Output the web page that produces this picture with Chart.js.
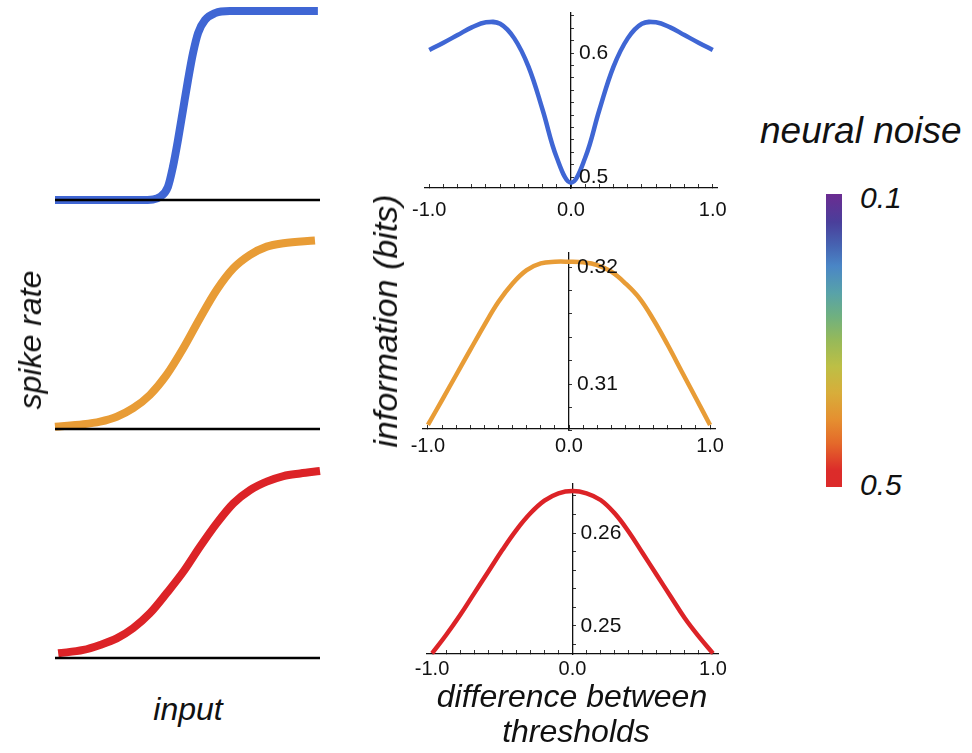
<!DOCTYPE html>
<html>
<head>
<meta charset="utf-8">
<script src="https://cdn.jsdelivr.net/npm/chart.js@4.4.1/dist/chart.umd.min.js"></script>
<style>
  html, body { margin: 0; padding: 0; background: #fff; }
  #fig { position: relative; width: 972px; height: 753px; background: #fff; overflow: hidden;
         font-family: "Liberation Sans", Arial, Helvetica, sans-serif; color: #111; }
  .panel { position: absolute; }
  .lbl { position: absolute; font-style: italic; line-height: 1; white-space: nowrap; }
  .rot { transform: translate(-50%, -50%) rotate(-90deg); }
  #bar { position: absolute; left: 826px; top: 194px; width: 16px; height: 293px; }
</style>
</head>
<body>
<div id="fig">
  <div class="panel" style="left:40px;top:0;width:295px;height:215px"><canvas id="l1"></canvas></div>
  <div class="panel" style="left:40px;top:225px;width:295px;height:215px"><canvas id="l2"></canvas></div>
  <div class="panel" style="left:40px;top:460px;width:295px;height:210px"><canvas id="l3"></canvas></div>

  <div class="panel" style="left:395px;top:0;width:352px;height:225px"><canvas id="r1"></canvas></div>
  <div class="panel" style="left:393px;top:230px;width:352px;height:236px"><canvas id="r2"></canvas></div>
  <div class="panel" style="left:397px;top:460px;width:351px;height:231px"><canvas id="r3"></canvas></div>

  <div class="lbl rot" style="left:30px;top:340px;font-size:32px">spike rate</div>
  <div class="lbl" style="left:188px;top:693px;font-size:32px;transform:translateX(-50%)">input</div>
  <div class="lbl rot" style="left:385px;top:321px;font-size:34px">information (bits)</div>
  <div class="lbl" style="left:572px;top:680px;font-size:32px;transform:translateX(-50%)">difference between</div>
  <div class="lbl" style="left:576px;top:715px;font-size:32px;transform:translateX(-50%)">thresholds</div>

  <div class="lbl" style="left:760px;top:112px;font-size:37px">neural noise</div>
  <div id="bar"></div>
  <div class="lbl" id="barTop" style="left:860px;top:183px;font-size:30px"></div>
  <div class="lbl" id="barBottom" style="left:860px;top:470px;font-size:30px"></div>
</div>

<script>
// ---------------- dati ----------------
// pannelli di sinistra: tasso di spike (normalizzato) in funzione dell'input
const baseX = [0, 10];
const baseY = [0, 0];

const inputBlue = [0, 3.2, 3.7, 3.96, 4.26, 4.45, 4.64, 4.83, 5.02, 5.21, 5.4, 5.66, 6.04, 6.6, 7.7, 9.92];
const rateBlue  = [0, 0, 0.003, 0.016, 0.069, 0.175, 0.317, 0.476, 0.635, 0.778, 0.884, 0.952, 0.989, 1, 1, 1];

const inputOrange = [0, 1.07, 1.7, 2.33, 2.95, 3.58, 4.21, 4.84, 5.47, 6.1, 6.73, 7.36, 7.99, 8.62, 9.81];
const rateOrange  = [0.012, 0.025, 0.039, 0.065, 0.11, 0.18, 0.286, 0.427, 0.586, 0.735, 0.85, 0.921, 0.965, 0.983, 0.997];

const inputRed = [0.12, 1.07, 1.7, 2.33, 2.95, 3.58, 4.21, 4.84, 5.47, 6.1, 6.73, 7.36, 7.99, 8.62, 9.25, 10];
const rateRed  = [0.025, 0.043, 0.07, 0.105, 0.16, 0.239, 0.346, 0.461, 0.595, 0.72, 0.827, 0.898, 0.943, 0.973, 0.987, 1];

// pannelli di destra: informazione (bit) in funzione della differenza tra soglie
const diffX = [-1, -0.9, -0.8, -0.7, -0.6, -0.5, -0.4, -0.3, -0.2, -0.1, 0,
               0.1, 0.2, 0.3, 0.4, 0.5, 0.6, 0.7, 0.8, 0.9, 1];
const infoBlue = [0.6024, 0.6083, 0.6145, 0.6207, 0.6248, 0.6236, 0.6118, 0.589, 0.554, 0.5155, 0.4954,
                  0.5155, 0.554, 0.589, 0.6118, 0.6236, 0.6248, 0.6207, 0.6145, 0.6083, 0.6024];
const infoOrange = [0.3065, 0.30863, 0.31077, 0.31291, 0.31504, 0.31703, 0.3186, 0.31974, 0.32031, 0.32045, 0.32045,
                    0.3204, 0.32017, 0.3196, 0.3186, 0.31732, 0.31547, 0.31333, 0.31105, 0.30878, 0.3065];
const infoRed = [0.24706, 0.24903, 0.25118, 0.25351, 0.25584, 0.25817, 0.26032, 0.26212, 0.26348, 0.26427, 0.26452,
                 0.26427, 0.26355, 0.26212, 0.26014, 0.25782, 0.25548, 0.25315, 0.25083, 0.24885, 0.24706];

// tacche
const xTicks = [-1, -0.9, -0.8, -0.7, -0.6, -0.5, -0.4, -0.3, -0.2, -0.1, 0,
                0.1, 0.2, 0.3, 0.4, 0.5, 0.6, 0.7, 0.8, 0.9, 1];
const xTickLabels = [-1, 0, 1];
const yTicksBlue = [0.5, 0.51, 0.52, 0.53, 0.54, 0.55, 0.56, 0.57, 0.58, 0.59, 0.6, 0.61, 0.62, 0.63];
const yLabelsBlue = [0.5, 0.6];
const yTicksOrange = [0.306, 0.308, 0.31, 0.312, 0.314, 0.316, 0.318, 0.32];
const yLabelsOrange = [0.31, 0.32];
const yTicksRed = [0.248, 0.25, 0.252, 0.254, 0.256, 0.258, 0.26, 0.262, 0.264];
const yLabelsRed = [0.25, 0.26];

// barra dei colori (rumore neurale)
const noiseLabels = ["0.1", "0.5"];
const barStops = [
  ["#6b2c91", 0], ["#4a3f9b", 0.097], ["#4664b2", 0.177], ["#4a86c6", 0.246], ["#58a2a9", 0.337],
  ["#6fb080", 0.417], ["#95b95a", 0.497], ["#bdbf45", 0.589], ["#d8ad3a", 0.68], ["#e58f30", 0.771],
  ["#e4692a", 0.851], ["#dc2c2a", 0.943], ["#dc2a2a", 1]
];

const BLUE = "#3f66d4";
const ORANGE = "#e89c36";
const RED = "#dc2327";
const FONT = '"Liberation Sans", Arial, Helvetica, sans-serif';

// ---------------- utilita ----------------
const zip = (xs, ys) => xs.map((x, i) => ({ x: x, y: ys[i] }));

Chart.defaults.animation = false;
Chart.defaults.devicePixelRatio = 1;

// etichette dell'asse y a destra dell'asse centrale
const yLabelPlugin = {
  id: "yLabels",
  afterDraw(chart, args, opts) {
    if (!opts || !opts.labels) return;
    const ctx = chart.ctx;
    const px = chart.scales.x.getPixelForValue(0);
    ctx.save();
    ctx.font = "21px " + FONT;
    ctx.fillStyle = "#111";
    ctx.textAlign = "left";
    ctx.textBaseline = "middle";
    opts.labels.forEach(v => ctx.fillText(v.toFixed(opts.digits), px + 8, chart.scales.y.getPixelForValue(v)));
    ctx.restore();
  }
};
Chart.register(yLabelPlugin);

const graficoSigmoide = function (id, xs, ys, colore, padding, monotona) {
  new Chart(document.getElementById(id), {
    type: "line",
    data: {
      datasets: [
        { data: zip(baseX, baseY), borderColor: "#000", borderWidth: 2.5, pointRadius: 0, clip: false },
        { data: zip(xs, ys), borderColor: colore, borderWidth: 8, pointRadius: 0, clip: false,
          cubicInterpolationMode: monotona ? "monotone" : "default", tension: monotona ? 0 : 0.4,
          capBezierPoints: false }
      ]
    },
    options: {
      responsive: true,
      maintainAspectRatio: false,
      layout: { padding: padding },
      plugins: { legend: { display: false }, tooltip: { enabled: false } },
      scales: {
        x: { type: "linear", min: 0, max: 10, display: false },
        y: { type: "linear", min: 0, max: 1, display: false }
      }
    }
  });
};

const graficoInfo = function (id, ys, colore, cfg) {
  new Chart(document.getElementById(id), {
    type: "line",
    data: {
      datasets: [{ data: zip(diffX, ys), borderColor: colore, borderWidth: 4.5, pointRadius: 0,
                   tension: 0.4, capBezierPoints: false, clip: false }]
    },
    options: {
      responsive: true,
      maintainAspectRatio: false,
      layout: { padding: cfg.padding },
      plugins: {
        legend: { display: false },
        tooltip: { enabled: false },
        yLabels: { labels: cfg.yLabels, digits: cfg.digits }
      },
      scales: {
        x: {
          type: "linear", position: "bottom", min: cfg.xMin, max: cfg.xMax,
          afterBuildTicks: s => { s.ticks = xTicks.map(v => ({ value: v })); },
          afterFit: s => { s.height = 30; },
          border: { color: "#111", width: 1.3 },
          grid: { drawOnChartArea: false, tickLength: -4, tickColor: "#333", tickWidth: 1 },
          ticks: {
            autoSkip: false, maxRotation: 0, minRotation: 0, padding: cfg.xPad,
            color: "#111", font: { family: FONT, size: 20 },
            callback: v => xTickLabels.includes(v) ? v.toFixed(1) : ""
          }
        },
        y: {
          type: "linear", position: { x: 0 }, min: cfg.yMin, max: cfg.yMax,
          afterBuildTicks: s => { s.ticks = cfg.yTicks.map(v => ({ value: v })); },
          border: { color: "#111", width: 1.3 },
          grid: { drawOnChartArea: false, tickLength: -4, tickColor: "#333", tickWidth: 1 },
          ticks: { display: false, autoSkip: false }
        }
      }
    }
  });
};

// ---------------- pannelli ----------------
graficoSigmoide("l1", inputBlue, rateBlue, BLUE, { left: 15, right: 15, top: 11, bottom: 15 }, true);
graficoSigmoide("l2", inputOrange, rateOrange, ORANGE, { left: 15, right: 15, top: 15, bottom: 11 }, true);
graficoSigmoide("l3", inputRed, rateRed, RED, { left: 15, right: 15, top: 11, bottom: 12 }, true);

graficoInfo("r1", infoBlue, BLUE, {
  padding: { left: 30, right: 30, top: 13, bottom: 7 }, xMin: -1.03, xMax: 1.03,
  yMin: 0.49113, yMax: 0.63226, yTicks: yTicksBlue, yLabels: yLabelsBlue, digits: 1, xPad: 14
});
graficoInfo("r2", infoOrange, ORANGE, {
  padding: { left: 30, right: 30, top: 23, bottom: 7 }, xMin: -1.035, xMax: 1.035,
  yMin: 0.306154, yMax: 0.321197, yTicks: yTicksOrange, yLabels: yLabelsOrange, digits: 2, xPad: 9
});
graficoInfo("r3", infoRed, RED, {
  padding: { left: 30, right: 30, top: 24, bottom: 7 }, xMin: -1.036, xMax: 1.036,
  yMin: 0.246989, yMax: 0.265269, yTicks: yTicksRed, yLabels: yLabelsRed, digits: 2, xPad: 7
});

// barra dei colori
document.getElementById("bar").style.background =
  "linear-gradient(to bottom, " + barStops.map(s => s[0] + " " + (s[1] * 100) + "%").join(", ") + ")";
document.getElementById("barTop").textContent = noiseLabels[0];
document.getElementById("barBottom").textContent = noiseLabels[1];
</script>
</body>
</html>
